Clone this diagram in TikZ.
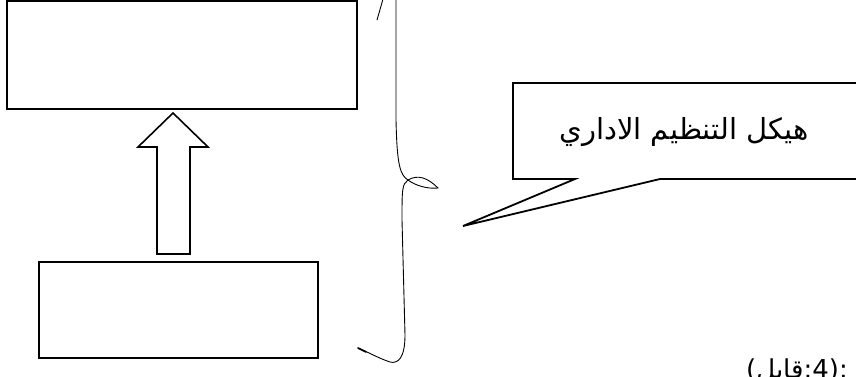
\documentclass[tikz,border=0pt]{standalone}
\usepackage{fontspec}
\newfontfamily\arabicfont[Script=Arabic]{DejaVu Sans}
\TeXXeTstate=1
\tikzset{
  box/.style={draw, line width=1.8pt, minimum width=#1, inner sep=0pt, fill=white},
  blockarrow/.style={draw, line width=1.6pt, line join=miter},
  bracestroke/.style={draw, line width=0.9pt, line cap=round},
  callout/.style={draw, line width=1.8pt, line join=miter},
  artext/.style={font=\arabicfont\fontsize{29}{34}\selectfont, inner sep=0pt}
}
\begin{document}
\begin{tikzpicture}[x=1pt,y=-1pt]
\useasboundingbox (0,0) rectangle (856,376);
\clip (0,0) rectangle (856,376);
\fill[white] (0,0) rectangle (856,376);
% boxes
\node[box=350pt, minimum height=108pt] (upper) at (182,55) {};
\node[box=279pt, minimum height=96pt] (lower) at (178.5,310) {};
% block arrow
\coordinate (tip) at (173,113);
\draw[blockarrow] (tip) -- (208,147) -- (190,147) -- (190,254) -- (157,254) -- (157,147) -- (138,147) -- cycle;
% brace
\coordinate (btop) at (396,-2);
\coordinate (bmid) at (408,180);
\coordinate (bbot) at (358,348);
\draw[bracestroke] (btop) -- (396,120) .. controls (397,165) and (400,175) .. (bmid);
\draw[bracestroke] (bmid) .. controls (418,174) and (428,178) .. (438,188);
\draw[bracestroke] (bmid) .. controls (416,186) and (428,189) .. (438,188);
\draw[bracestroke] (bmid) .. controls (402,184) and (402,190) .. (402,220) -- (405,335) .. controls (405,358) and (398,364) .. (390,362) .. controls (378,358) and (368,352) .. (bbot);
\draw[line width=1.6pt, line cap=round] (bbot) -- (366,352);
\coordinate (sa) at (377,20);
\coordinate (sb) at (383,-1);
\draw[bracestroke] (sa) -- (sb);
% callout
\coordinate (cl) at (513,83);
\coordinate (cp1) at (575,179);
\coordinate (cp2) at (660,179);
\coordinate (ctip) at (463,226);
\draw[callout] (870,83) -- (cl) -- (513,179) -- (cp1) -- (ctip) -- (cp2) -- (870,179);
\node[artext] (title) at (684,132) {\beginR هيكل التنظيم الاداري\endR};
% bottom cut-off caption
\node[artext, font=\arabicfont\fontsize{26}{30}\selectfont, anchor=north] (cap) at (797,359) {\beginR :(4:قابل)\endR};
\end{tikzpicture}
\end{document}
